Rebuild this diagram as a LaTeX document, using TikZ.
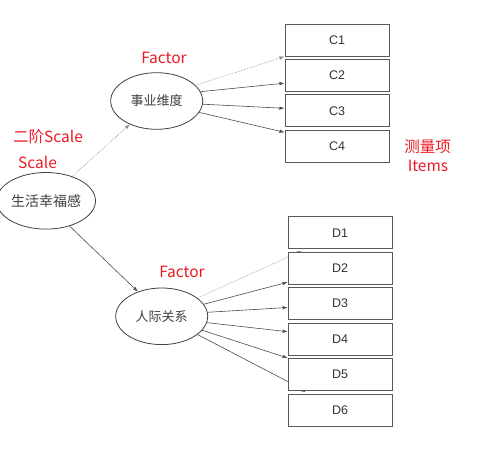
\documentclass[tikz,border=0pt]{standalone}
\usepackage{fontspec}
\setmainfont{Liberation Sans}
\newfontfamily\cjk{Noto Sans CJK SC}
\usetikzlibrary{arrows.meta,shapes.geometric}
\pgfdeclarelayer{bg}
\pgfsetlayers{bg,main}
\definecolor{labred}{RGB}{235,25,35}
\begin{document}
\begin{tikzpicture}[x=1pt,y=-1pt,
  itembox/.style={draw=black!65,line width=1pt,fill=white,minimum width=104pt,minimum height=32pt,inner sep=0pt,font=\fontsize{12.5}{14}\selectfont,text=black!80},
  latent/.style={draw=black!75,line width=0.8pt,fill=white,ellipse,minimum width=92pt,minimum height=56.6pt,inner sep=0pt,font=\cjk\fontsize{13}{15}\selectfont,text=black!75},
  conn/.style={draw=black!70,line width=0.6pt,-{Latex[length=5pt,width=3.6pt]}},
  dconn/.style={conn,draw=black!45,densely dotted},
  redlab/.style={text=labred,font=\cjk\fontsize{15.5}{18}\selectfont,inner sep=0pt}
]
\useasboundingbox (0,0) rectangle (498,455);

% latent variables
\node[latent,font=\cjk\fontsize{14}{16}\selectfont] (S) at (46,200.8) {生活幸福感};
\node[latent] (F1) at (156.7,101) {事业维度};
\node[latent] (F2) at (161.7,316.3) {人际关系};

% items
\node[itembox] (C1) at (337,40) {C1};
\node[itembox] (C2) at (337,75.2) {C2};
\node[itembox] (C3) at (337,110.8) {C3};
\node[itembox] (C4) at (337,146.3) {C4};

\node[itembox] (D1) at (340.2,232.8) {D1};
\node[itembox] (D2) at (340.2,268.2) {D2};
\node[itembox] (D3) at (340.2,303.5) {D3};
\node[itembox] (D4) at (340.2,339.2) {D4};
\node[itembox] (D5) at (340.2,374.5) {D5};
\node[itembox] (D6) at (340.2,410.5) {D6};

% red labels
\node[redlab] (lf1) at (164,58) {Factor};
\node[redlab] (ls1) at (48,137) {二阶Scale};
\node[redlab] (ls2) at (37.5,162) {Scale};
\node[redlab] (li1) at (427.5,147) {测量项};
\node[redlab] (li2) at (428,166) {Items};
\node[redlab] (lf2) at (182,272) {Factor};

\begin{pgfonlayer}{bg}
  \draw[dconn] (S.43) -- (F1.221);
  \draw[conn] (S.-47) -- (F2.134);

  \draw[dconn] (F1.22) -- (C1.south west);
  \draw[conn] (F1.12) -- ([yshift=-8pt]C2.west);
  \draw[conn] (F1.-4) -- ([yshift=2.5pt]C3.west);
  \draw[conn] (F1.-15) -- ([yshift=14pt]C4.west);

  \draw[dconn] (F2.27) -- ([yshift=11pt]D2.west) -- ([xshift=14pt,yshift=-1.5pt]D1.south west);
  \draw[conn] (F2.16) -- ([yshift=-14pt]D2.west);
  \draw[conn] (F2.5) -- ([yshift=-4pt]D3.west);
  \draw[conn] (F2.-8) -- ([yshift=7.5pt]D4.west);
  \draw[conn] (F2.-19) -- (D5.north west);
  \draw[conn] (F2.-27) -- ([yshift=-7pt]D5.west) -- ([xshift=18pt,yshift=1.8pt]D6.north west);
\end{pgfonlayer}
\end{tikzpicture}
\end{document}
